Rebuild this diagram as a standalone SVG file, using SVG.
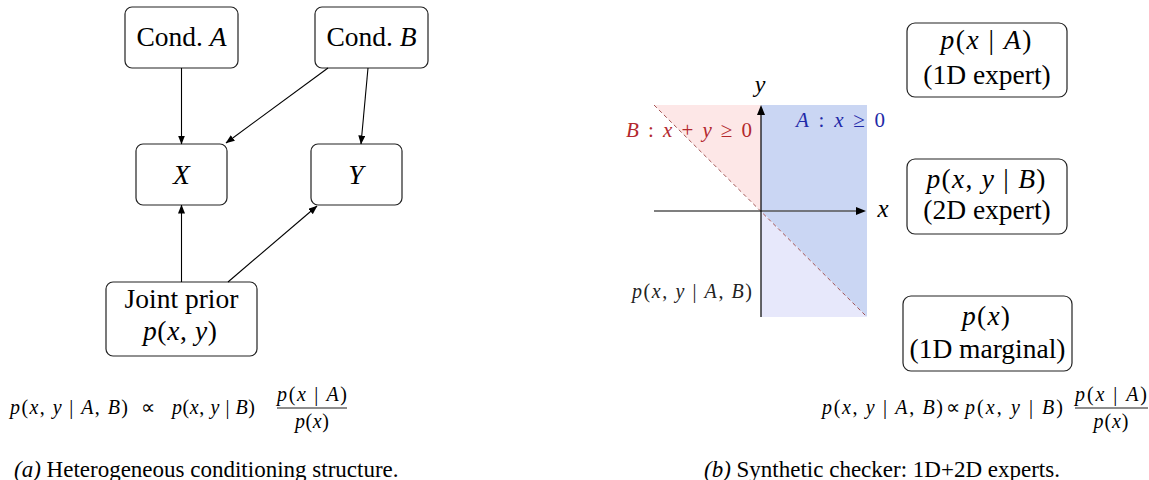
<svg xmlns="http://www.w3.org/2000/svg" width="1149" height="480" viewBox="0 0 1149 480">
<defs>
<marker id="ah" markerWidth="9" markerHeight="7" refX="8.5" refY="3.5" orient="auto" markerUnits="userSpaceOnUse">
<path d="M0,0 L9,3.5 L0,7 z" fill="#000"/>
</marker>
<style>
text{font-family:"Liberation Serif","Times New Roman",serif;fill:#000}
.n{font-size:27.5px}
.i{font-style:italic}
.box{fill:#fff;stroke:#222;stroke-width:1.2}
.c{stroke:#000;stroke-width:1.1;fill:none;marker-end:url(#ah)}
.f{font-size:20px}
.cap{font-size:23px}
</style>
</defs>
<rect width="1149" height="480" fill="#fff"/>

<g id="condA"><rect class="box" x="125" y="7" width="113" height="61" rx="7"/><text class="n" x="181.5" y="46" text-anchor="middle">Cond. <tspan class="i">A</tspan></text></g>
<g id="condB"><rect class="box" x="315" y="7" width="113" height="61" rx="7"/><text class="n" x="371.5" y="46" text-anchor="middle">Cond. <tspan class="i">B</tspan></text></g>
<g id="nodeX"><rect class="box" x="136" y="144" width="91" height="61" rx="7"/><text class="n i" x="181.5" y="184" text-anchor="middle">X</text></g>
<g id="nodeY"><rect class="box" x="311" y="144" width="91" height="61" rx="7"/><text class="n i" x="356" y="184" text-anchor="middle">Y</text></g>
<g id="joint"><rect class="box" x="106" y="282" width="151" height="74" rx="7"/><text class="n" x="181.5" y="308" text-anchor="middle">Joint prior</text><text class="n" x="180" y="340" text-anchor="middle" textLength="74"><tspan class="i">p</tspan>(<tspan class="i">x</tspan>, <tspan class="i">y</tspan>)</text></g>

<g id="connectors">
<line class="c" x1="181.5" y1="68" x2="181.5" y2="144"/>
<line class="c" x1="328" y1="68" x2="226" y2="143"/>
<line class="c" x1="368" y1="68" x2="361" y2="144"/>
<line class="c" x1="181.5" y1="282" x2="181.5" y2="205"/>
<line class="c" x1="228" y1="282" x2="317" y2="206"/>
</g>

<g id="formulaA">
<text class="f" x="10" y="414" textLength="118"><tspan class="i">p</tspan>(<tspan class="i">x</tspan>, <tspan class="i">y</tspan> | <tspan class="i">A</tspan>, <tspan class="i">B</tspan>)</text>
<text class="f" x="148" y="414" text-anchor="middle">∝</text>
<text class="f" x="172" y="414" textLength="83"><tspan class="i">p</tspan>(<tspan class="i">x</tspan>, <tspan class="i">y</tspan> | <tspan class="i">B</tspan>)</text>
<text class="f" x="312" y="401" text-anchor="middle" textLength="70"><tspan class="i">p</tspan>(<tspan class="i">x</tspan> | <tspan class="i">A</tspan>)</text>
<line x1="277" y1="408" x2="347" y2="408" stroke="#000" stroke-width="0.9"/>
<text class="f" x="312" y="428" text-anchor="middle" textLength="34"><tspan class="i">p</tspan>(<tspan class="i">x</tspan>)</text>
</g>
<text class="cap" x="14" y="477"><tspan class="i">(a)</tspan> Heterogeneous conditioning structure.</text>

<g id="plot">
<polygon points="654,105 761,105 761,211" fill="#fde7e7"/>
<polygon points="761,105 867,105 867,317 761,211" fill="#cad6f3"/>
<polygon points="761,211 867,317 761,317" fill="#e7e8fb"/>
<line x1="654" y1="105" x2="867" y2="317" stroke="#8b2a2a" stroke-width="0.8" stroke-dasharray="4,3"/>
<line x1="654" y1="211" x2="856" y2="211" stroke="#555" stroke-width="1.6"/>
<path d="M866,211 L856,207 L856,215 z" fill="#000"/>
<line x1="761" y1="317" x2="761" y2="115" stroke="#000" stroke-width="1.2"/>
<path d="M761,105 L757,115 L765,115 z" fill="#000"/>
<text class="i" x="760" y="92" font-size="24" text-anchor="middle">y</text>
<text class="i" x="883" y="217" font-size="25" text-anchor="middle">x</text>
<text x="626" y="137" font-size="21" textLength="126" style="fill:#b3282d"><tspan class="i" style="fill:#b3282d">B</tspan> : <tspan class="i" style="fill:#b3282d">x</tspan> + <tspan class="i" style="fill:#b3282d">y</tspan> ≥ 0</text>
<text x="796" y="127" font-size="21" textLength="89" style="fill:#1f2aa8"><tspan class="i" style="fill:#1f2aa8">A</tspan> : <tspan class="i" style="fill:#1f2aa8">x</tspan> ≥ 0</text>
<text class="f" x="632" y="298" textLength="120" style="fill:#222"><tspan class="i" style="fill:#222">p</tspan>(<tspan class="i" style="fill:#222">x</tspan>, <tspan class="i" style="fill:#222">y</tspan> | <tspan class="i" style="fill:#222">A</tspan>, <tspan class="i" style="fill:#222">B</tspan>)</text>
</g>

<g id="expertA"><rect class="box" x="907" y="23" width="160" height="74" rx="8"/><text class="n" x="986" y="49" text-anchor="middle" textLength="91"><tspan class="i">p</tspan>(<tspan class="i">x</tspan> | <tspan class="i">A</tspan>)</text><text class="n" x="987" y="84" text-anchor="middle">(1D expert)</text></g>
<g id="expertB"><rect class="box" x="907" y="159" width="160" height="75" rx="8"/><text class="n" x="986" y="188" text-anchor="middle" textLength="119"><tspan class="i">p</tspan>(<tspan class="i">x</tspan>, <tspan class="i">y</tspan> | <tspan class="i">B</tspan>)</text><text class="n" x="987" y="219" text-anchor="middle">(2D expert)</text></g>
<g id="marginal"><rect class="box" x="903" y="296" width="169" height="75" rx="8"/><text class="n" x="986" y="325" text-anchor="middle" textLength="48"><tspan class="i">p</tspan>(<tspan class="i">x</tspan>)</text><text class="n" x="987.5" y="358" text-anchor="middle">(1D marginal)</text></g>

<g id="formulaB">
<text class="f" x="822" y="414" textLength="121"><tspan class="i">p</tspan>(<tspan class="i">x</tspan>, <tspan class="i">y</tspan> | <tspan class="i">A</tspan>, <tspan class="i">B</tspan>)</text>
<text class="f" x="953" y="414" text-anchor="middle">∝</text>
<text class="f" x="965" y="414" textLength="98"><tspan class="i">p</tspan>(<tspan class="i">x</tspan>, <tspan class="i">y</tspan> | <tspan class="i">B</tspan>)</text>
<text class="f" x="1111" y="401" text-anchor="middle" textLength="72"><tspan class="i">p</tspan>(<tspan class="i">x</tspan> | <tspan class="i">A</tspan>)</text>
<line x1="1075" y1="408" x2="1148" y2="408" stroke="#000" stroke-width="0.9"/>
<text class="f" x="1111" y="428" text-anchor="middle" textLength="35"><tspan class="i">p</tspan>(<tspan class="i">x</tspan>)</text>
</g>
<text class="cap" x="704" y="477"><tspan class="i">(b)</tspan> Synthetic checker: 1D+2D experts.</text>
</svg>
